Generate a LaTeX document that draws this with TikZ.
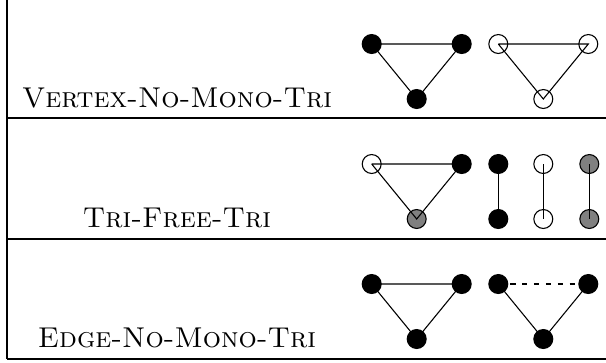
\documentclass[tikz,border=0pt]{standalone}

\begin{document}
\begin{tikzpicture}[x=0.37pt,y=-0.37pt,
    blk/.style={circle,draw,fill=black,inner sep=0pt,minimum size=7pt},
    wht/.style={circle,draw,inner sep=0pt,minimum size=7pt},
    gry/.style={circle,draw,fill=gray,inner sep=0pt,minimum size=7pt},
    lbl/.style={anchor=base,inner sep=0pt,font=\fontsize{10.6}{13}\selectfont},
    rule/.style={line width=0.4pt}]
  \useasboundingbox (0,0) rectangle (606,362);
  \draw[rule] (7,0) -- (7,359);
  \foreach \y in {118,239,359}
    \draw[rule] (7,\y) -- (606,\y);

  % row labels
  \node[lbl] (vnmt) at (177,107) {\textsc{Vertex-No-Mono-Tri}};
  \node[lbl] (tft) at (177,227) {\textsc{Tri-Free-Tri}};
  \node[lbl] (enmt) at (177,347) {\textsc{Edge-No-Mono-Tri}};

  % vertex row
  \node[blk] (va1) at (371.7,44) {};
  \node[blk] (va2) at (461.7,44) {};
  \node[blk] (va3) at (416.7,99) {};
  \node[wht] (vb1) at (498.3,44) {};
  \node[wht] (vb2) at (588.3,44) {};
  \node[wht] (vb3) at (543.3,99) {};
  \draw (va1.center) -- (va2.center) -- (va3.center) -- (va1.center);
  \draw (vb1.center) -- (vb2.center) -- (vb3.center) -- (vb1.center);

  % tri-free row
  \node[wht] (ta1) at (371.7,164) {};
  \node[blk] (ta2) at (461.7,164) {};
  \node[gry] (ta3) at (416.7,219) {};
  \node[blk] (tb1) at (498.3,164) {};
  \node[blk] (tb2) at (498.3,219) {};
  \node[wht] (tc1) at (543.3,164) {};
  \node[wht] (tc2) at (543.3,219) {};
  \node[gry] (td1) at (589.3,164) {};
  \node[gry] (td2) at (589.3,219) {};
  \draw (ta1.center) -- (ta2.center) -- (ta3.center) -- (ta1.center);
  \draw (tb1.center) -- (tb2.center);
  \draw (tc1.center) -- (tc2.center);
  \draw (td1.center) -- (td2.center);

  % edge row
  \node[blk] (ea1) at (371.7,284) {};
  \node[blk] (ea2) at (461.7,284) {};
  \node[blk] (ea3) at (416.7,339) {};
  \node[blk] (eb1) at (498.3,284) {};
  \node[blk] (eb2) at (588.3,284) {};
  \node[blk] (eb3) at (543.3,339) {};
  \draw (ea1.center) -- (ea2.center) -- (ea3.center) -- (ea1.center);
  \draw[dash pattern=on 2pt off 2.4pt] (eb1.center) -- (eb2.center);
  \draw (eb2.center) -- (eb3.center) -- (eb1.center);
\end{tikzpicture}
\end{document}
